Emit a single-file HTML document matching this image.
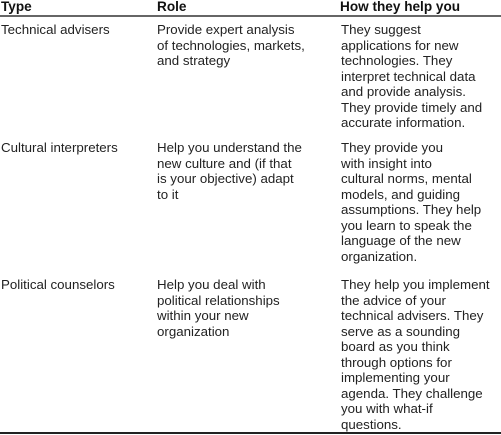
<!DOCTYPE html>
<html><head><style>
body{margin:0;width:501px;height:435px;background:#fff;position:relative;overflow:hidden;font-family:"Liberation Sans",Arial,sans-serif;font-size:13.3px;line-height:15.5px;color:#222}
.c{position:absolute;white-space:nowrap}
.h{font-weight:bold;color:#111;top:-1px;font-size:13.6px}
.l{position:absolute;left:0;width:501px}
</style></head><body>
<div class="c h" style="left:1px">Type</div>
<div class="c h" style="left:157px">Role</div>
<div class="c h" style="left:340px">How they help you</div>
<div class="l" style="top:15px;height:2px;background:#666"></div>

<div class="c" style="left:1px;top:22px">Technical advisers</div>
<div class="c" style="left:157px;top:22px">Provide expert analysis<br>of technologies, markets,<br>and strategy</div>
<div class="c" style="left:341px;top:22px">They suggest<br>applications for new<br>technologies. They<br>interpret technical data<br>and provide analysis.<br>They provide timely and<br>accurate information.</div>

<div class="c" style="left:1px;top:140px">Cultural interpreters</div>
<div class="c" style="left:157px;top:140px">Help you understand the<br>new culture and (if that<br>is your objective) adapt<br>to it</div>
<div class="c" style="left:341px;top:140px">They provide you<br>with insight into<br>cultural norms, mental<br>models, and guiding<br>assumptions. They help<br>you learn to speak the<br>language of the new<br>organization.</div>

<div class="c" style="left:1px;top:277px">Political counselors</div>
<div class="c" style="left:157px;top:277px">Help you deal with<br>political relationships<br>within your new<br>organization</div>
<div class="c" style="left:341px;top:277px">They help you implement<br>the advice of your<br>technical advisers. They<br>serve as a sounding<br>board as you think<br>through options for<br>implementing your<br>agenda. They challenge<br>you with what-if<br>questions.</div>
<div class="l" style="top:432px;height:2px;background:#222"></div>
</body></html>
